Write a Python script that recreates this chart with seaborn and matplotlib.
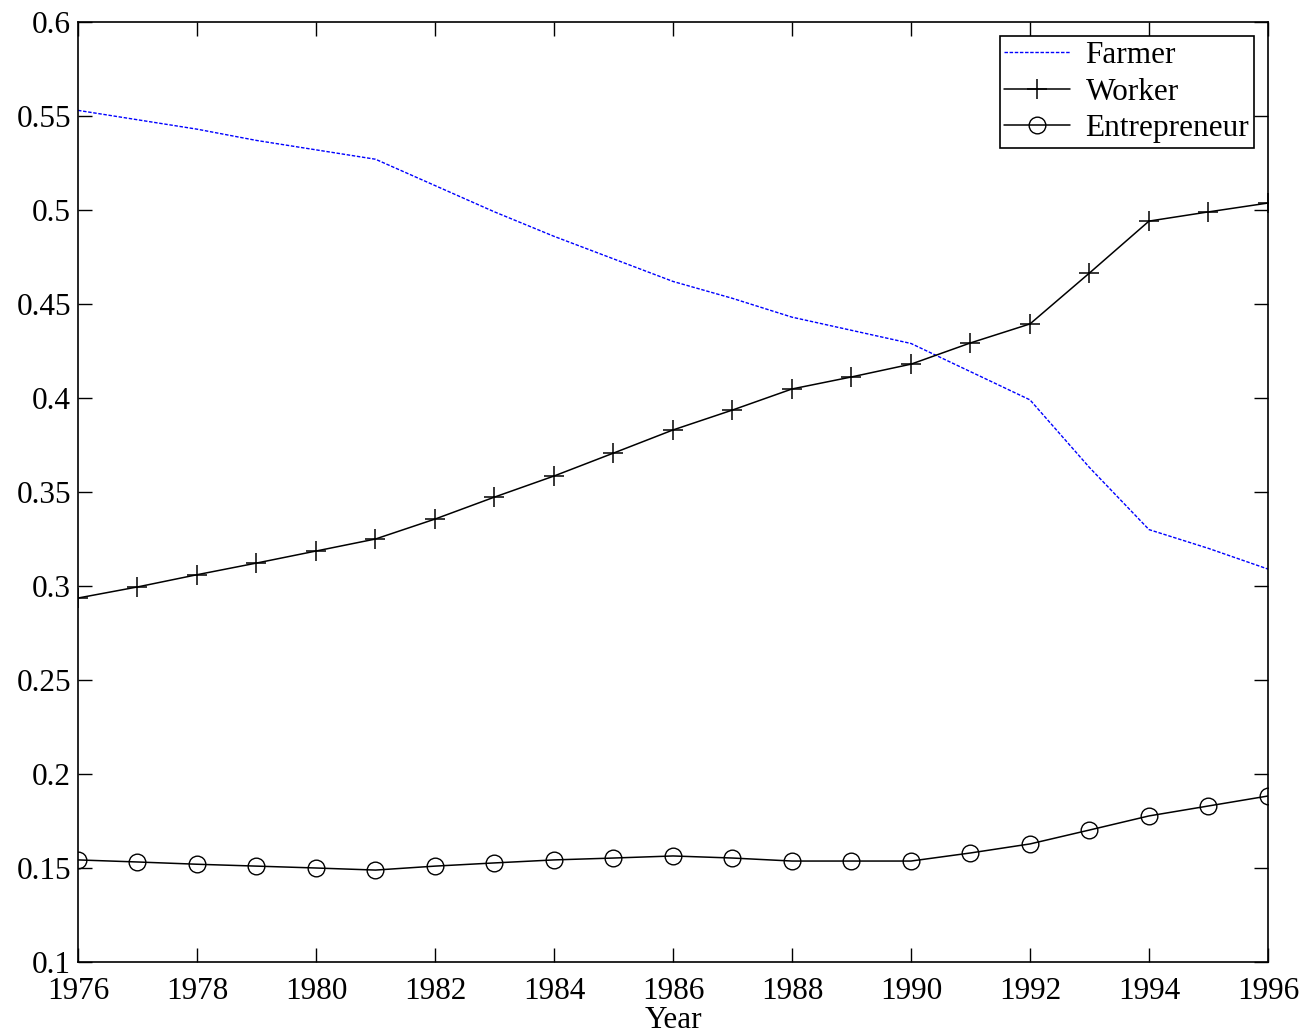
import numpy as np
import pandas as pd
import matplotlib
matplotlib.use("Agg")
import matplotlib.pyplot as plt
import seaborn as sns

years = list(range(1976, 1997))
farmer = [0.553, 0.548, 0.543, 0.537, 0.532, 0.527, 0.513, 0.499, 0.486, 0.474,
          0.462, 0.453, 0.443, 0.436, 0.429, 0.414, 0.399, 0.363, 0.330, 0.320, 0.309]
worker = [0.2936, 0.2995, 0.306, 0.3122, 0.3186, 0.325, 0.3356, 0.3473, 0.3585, 0.3707,
          0.383, 0.3936, 0.4048, 0.4112, 0.418, 0.4293, 0.4394, 0.4665, 0.4941, 0.499, 0.5037]
entrepreneur = [0.1543, 0.1532, 0.152, 0.151, 0.150, 0.1489, 0.151, 0.1527, 0.1543, 0.1553,
                0.1564, 0.1553, 0.1537, 0.1537, 0.1537, 0.158, 0.1628, 0.1702, 0.1777, 0.183, 0.1883]
xticks = list(range(1976, 1997, 2))
yticks = [0.1, 0.15, 0.2, 0.25, 0.3, 0.35, 0.4, 0.45, 0.5, 0.55, 0.6]
ytick_labels = ["0.1", "0.15", "0.2", "0.25", "0.3", "0.35", "0.4", "0.45", "0.5", "0.55", "0.6"]

sns.set_theme(style="white")
plt.rcParams['font.family'] = ['Liberation Serif', 'DejaVu Serif']
plt.rcParams['text.color'] = 'black'
plt.rcParams['axes.labelcolor'] = 'black'
plt.rcParams['xtick.color'] = 'black'
plt.rcParams['ytick.color'] = 'black'

df = pd.DataFrame({"Year": years, "Farmer": farmer, "Worker": worker, "Entrepreneur": entrepreneur})

fig = plt.figure(figsize=(13.06, 10.35), dpi=100)
ax = fig.add_axes([78/1306, 1 - 962/1035, (1268-78)/1306, (962-22)/1035])

sns.lineplot(data=df, x="Year", y="Farmer", ax=ax, color="#0000ff", linewidth=1.0,
             linestyle=(0, (2.5, 1.2)), label="Farmer")
sns.lineplot(data=df, x="Year", y="Worker", ax=ax, color="black", linewidth=1.1,
             marker="+", markersize=15, markeredgewidth=1.1, markeredgecolor="black",
             label="Worker")
sns.lineplot(data=df, x="Year", y="Entrepreneur", ax=ax, color="black", linewidth=1.1,
             marker="o", markersize=12, markerfacecolor="none", markeredgecolor="black",
             markeredgewidth=1.0, label="Entrepreneur")

ax.set_xlim(1976, 1996)
ax.set_ylim(0.1, 0.6)
ax.set_xticks(xticks)
ax.set_xticklabels([str(x) for x in xticks])
ax.set_yticks(yticks)
ax.set_yticklabels(ytick_labels)
ax.set_xlabel("Year", fontsize=22.5, labelpad=0, color="black")
ax.set_ylabel("")
ax.tick_params(axis="both", which="major", direction="in", length=10, width=1.0,
               labelsize=22.5, top=True, right=True, bottom=True, left=True,
               colors="black", labelcolor="black")
ax.tick_params(axis="x", pad=11)
ax.tick_params(axis="y", pad=5)
for s in ax.spines.values():
    s.set_visible(True)
    s.set_color("black")
    s.set_linewidth(1.2)

leg = ax.legend(loc="upper right", fontsize=22.5, frameon=True, fancybox=False,
                edgecolor="black", framealpha=1, borderpad=0.15, labelspacing=0.25,
                handlelength=2.1, handletextpad=0.5, borderaxespad=0.45)
leg.get_frame().set_linewidth(1.2)
for t in leg.get_texts():
    t.set_color("black")

fig.savefig("out.png", dpi=100)
